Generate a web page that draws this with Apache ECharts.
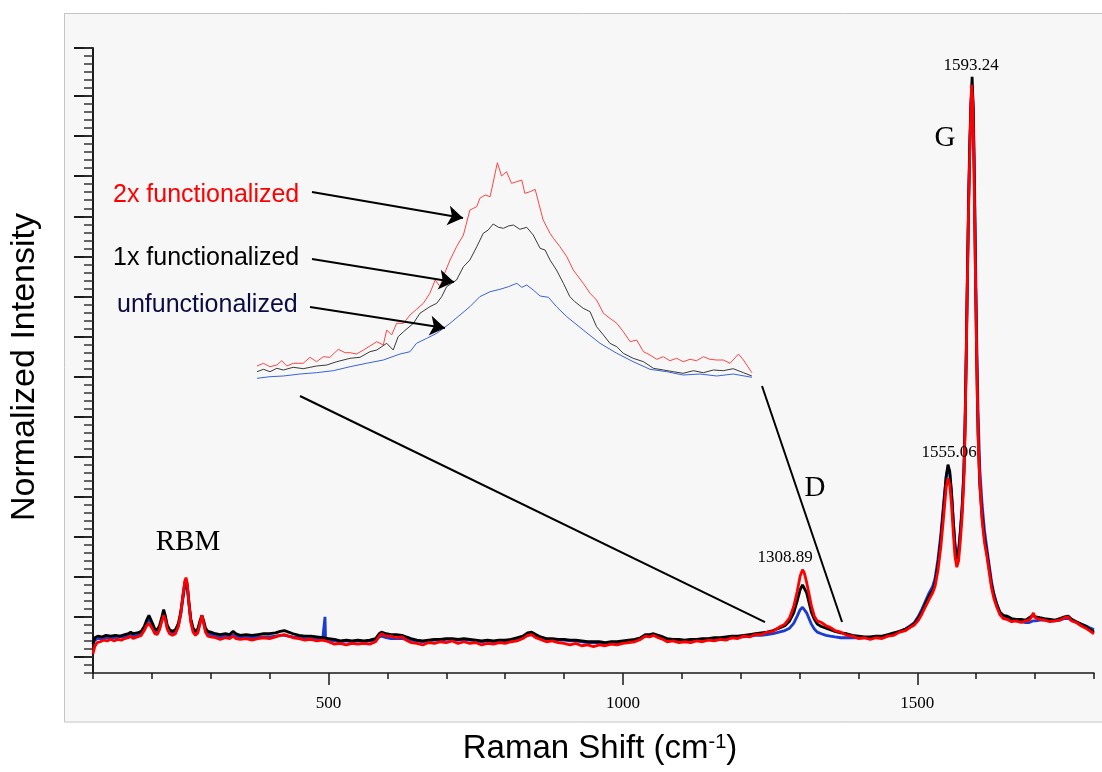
<!DOCTYPE html>
<html><head><meta charset="utf-8">
<script src="https://cdn.jsdelivr.net/npm/echarts@6/dist/echarts.min.js"></script>
<style>html,body{margin:0;padding:0;background:#fff}#chart{width:1102px;height:772px}</style>
</head><body><div id="chart"></div>
<script>
// ---- main spectra: [Raman shift cm-1, normalized intensity (axis units)] ----
const unfunctionalized = [[100,3.6],[103,4.1],[108,4.3],[115,4.3],[122,4.4],[130,4.4],[138,4.4],[146,4.5],[154,4.5],[160,4.6],[164,4.8],[168,4.6],[175,4.7],[182,4.9],[187,5.5],[191,6.2],[195,6.8],[198,6.6],[201,5.9],[205,5.2],[209,5.1],[213,5.6],[217,6.7],[220,7.5],[223,6.8],[226,5.7],[230,5.1],[235,4.9],[240,5.1],[245,5.9],[249,7.3],[253,9.4],[256,10.9],[258,11.3],[260,10.7],[263,8.5],[266,6.5],[270,5.3],[274,4.9],[278,5.2],[282,6.3],[285,6.9],[288,6.2],[291,5.3],[295,4.9],[300,4.8],[308,4.6],[316,4.5],[325,4.6],[332,4.5],[338,4.8],[343,4.6],[350,4.4],[360,4.5],[370,4.4],[380,4.5],[390,4.5],[400,4.5],[410,4.6],[418,4.7],[425,4.7],[432,4.6],[440,4.5],[450,4.4],[460,4.3],[470,4.3],[480,4.2],[490,4.2],[493,4.2],[494,7.0],[495,4.2],[500,4.1],[510,4.0],[520,3.9],[530,4.0],[540,3.9],[550,4.0],[560,3.9],[570,4.0],[580,4.1],[586,4.5],[590,4.6],[598,4.4],[606,4.3],[615,4.3],[625,4.3],[632,4.2],[640,4.1],[650,4.0],[660,3.9],[670,4.0],[680,4.1],[690,4.1],[700,4.2],[710,4.2],[720,4.1],[730,4.2],[740,4.1],[750,4.0],[760,3.9],[770,4.0],[780,3.9],[790,4.0],[800,4.0],[810,4.1],[820,4.2],[830,4.4],[838,4.7],[845,4.8],[852,4.5],[860,4.3],[870,4.2],[880,4.2],[890,4.1],[900,4.1],[910,4.0],[920,4.0],[930,3.9],[940,3.8],[950,3.8],[960,3.8],[970,3.7],[980,3.8],[990,3.8],[1000,3.9],[1010,4.0],[1020,4.1],[1030,4.3],[1038,4.6],[1045,4.6],[1052,4.7],[1060,4.5],[1068,4.4],[1075,4.2],[1085,4.1],[1095,4.1],[1105,4.0],[1115,4.1],[1125,4.1],[1135,4.2],[1145,4.2],[1155,4.3],[1165,4.3],[1175,4.4],[1185,4.4],[1195,4.5],[1205,4.5],[1215,4.6],[1225,4.7],[1235,4.7],[1245,4.8],[1255,4.9],[1265,5.1],[1275,5.3],[1283,5.6],[1290,6.2],[1296,7.1],[1301,7.9],[1305,8.2],[1308,8.1],[1312,7.5],[1316,6.8],[1320,6.1],[1325,5.5],[1330,5.1],[1337,4.9],[1345,4.7],[1352,4.6],[1360,4.5],[1370,4.4],[1380,4.4],[1390,4.4],[1400,4.4],[1410,4.4],[1420,4.4],[1430,4.5],[1440,4.5],[1450,4.7],[1460,4.9],[1470,5.2],[1480,5.5],[1488,5.9],[1495,6.3],[1502,7.1],[1508,8.0],[1514,9.0],[1520,10.0],[1526,10.8],[1530,11.8],[1535,14.2],[1540,17.4],[1545,21.5],[1549,24.6],[1552,25.6],[1555,24.8],[1558,22.4],[1561,19.0],[1564,16.0],[1567,14.5],[1570,15.3],[1573,17.8],[1576,20.8],[1579,25.2],[1581,31],[1583,39.5],[1585,49],[1587,58],[1589,65.5],[1591,71],[1593,73.2],[1595,70.5],[1597,62],[1599,51],[1601,41],[1603,33],[1606,25.5],[1610,21.0],[1614,17.8],[1618,15.6],[1622,13.5],[1626,11.4],[1630,9.9],[1635,8.6],[1640,7.6],[1646,7.1],[1652,6.9],[1660,6.6],[1668,6.5],[1676,6.4],[1684,6.3],[1690,6.3],[1696,6.5],[1701,6.5],[1708,6.6],[1716,6.6],[1725,6.5],[1734,6.5],[1742,6.6],[1750,6.8],[1756,6.8],[1762,6.6],[1770,6.3],[1778,6.1],[1786,5.9],[1794,5.6],[1800,5.4]];

const functionalized1x = [[100,3.6],[103,4.4],[108,4.6],[115,4.5],[122,4.7],[130,4.6],[138,4.7],[146,4.6],[154,4.8],[160,4.9],[164,5.1],[168,4.9],[175,5.0],[182,5.2],[187,5.8],[191,6.6],[195,7.2],[198,7.0],[201,6.2],[205,5.5],[209,5.4],[213,5.9],[217,7.0],[220,7.9],[223,7.1],[226,6.0],[230,5.4],[235,5.2],[240,5.4],[245,6.2],[249,7.6],[253,9.8],[256,11.3],[258,11.6],[260,11.0],[263,8.8],[266,6.8],[270,5.6],[274,5.2],[278,5.5],[282,6.6],[285,7.2],[288,6.5],[291,5.6],[295,5.2],[300,5.1],[308,4.9],[316,4.8],[325,4.9],[332,4.8],[338,5.2],[343,4.9],[350,4.7],[360,4.8],[370,4.7],[380,4.8],[390,4.9],[400,4.9],[410,5.0],[418,5.2],[425,5.3],[432,5.1],[440,4.9],[450,4.7],[460,4.6],[470,4.6],[480,4.5],[490,4.4],[500,4.3],[510,4.2],[520,4.0],[530,4.1],[540,4.0],[550,4.1],[560,4.0],[570,4.1],[580,4.3],[586,4.9],[590,5.1],[598,4.9],[606,4.8],[615,4.8],[625,4.7],[632,4.5],[640,4.3],[650,4.1],[660,4.0],[670,4.1],[680,4.2],[690,4.2],[700,4.3],[710,4.3],[720,4.2],[730,4.3],[740,4.2],[750,4.1],[760,4.0],[770,4.1],[780,4.0],[790,4.1],[800,4.1],[810,4.2],[820,4.4],[830,4.6],[838,5.0],[845,5.1],[852,4.8],[860,4.5],[870,4.3],[880,4.3],[890,4.2],[900,4.2],[910,4.1],[920,4.1],[930,4.0],[940,3.9],[950,3.9],[960,3.9],[970,3.8],[980,3.9],[990,3.9],[1000,4.0],[1010,4.1],[1020,4.2],[1030,4.4],[1038,4.8],[1045,4.8],[1052,4.9],[1060,4.7],[1068,4.5],[1075,4.3],[1085,4.2],[1095,4.2],[1105,4.1],[1115,4.2],[1125,4.2],[1135,4.3],[1145,4.3],[1155,4.4],[1165,4.4],[1175,4.5],[1185,4.6],[1195,4.6],[1205,4.7],[1215,4.8],[1225,4.9],[1235,5.0],[1245,5.1],[1255,5.3],[1265,5.6],[1275,5.9],[1283,6.5],[1290,7.5],[1296,9.0],[1301,10.4],[1305,11.0],[1308,10.9],[1312,10.0],[1316,8.8],[1320,7.6],[1325,6.7],[1330,6.1],[1337,5.8],[1345,5.6],[1352,5.4],[1360,5.2],[1370,5.0],[1380,4.9],[1390,4.7],[1400,4.6],[1410,4.5],[1420,4.5],[1430,4.6],[1440,4.6],[1450,4.8],[1460,5.0],[1470,5.2],[1480,5.5],[1488,5.8],[1495,6.2],[1502,6.9],[1508,7.7],[1514,8.7],[1520,9.6],[1526,10.3],[1530,11.2],[1535,13.5],[1540,16.8],[1545,21.0],[1549,24.5],[1552,26.0],[1555,25.2],[1558,22.6],[1561,19.0],[1564,15.8],[1567,14.2],[1570,15.0],[1573,17.5],[1576,20.5],[1579,25.0],[1581,31],[1583,40],[1585,50],[1587,59],[1589,66],[1591,71],[1593,74.4],[1595,70],[1597,60],[1599,48],[1601,38],[1603,30],[1606,23.5],[1610,19.5],[1614,16.8],[1618,15.0],[1622,13.0],[1626,11.0],[1630,9.7],[1635,8.5],[1640,7.6],[1646,7.2],[1652,7.1],[1660,6.8],[1668,6.7],[1676,6.7],[1684,6.6],[1690,6.9],[1696,7.2],[1701,7.0],[1708,6.9],[1716,6.8],[1725,6.7],[1734,6.6],[1742,6.8],[1750,7.0],[1756,7.1],[1762,6.7],[1770,6.4],[1778,6.1],[1786,5.8],[1794,5.4],[1800,5.1]];

const functionalized2x = [[100,2.4],[103,3.3],[107,3.8],[112,3.9],[118,4.1],[124,4.0],[130,4.2],[136,4.0],[142,4.2],[148,4.1],[154,4.3],[160,4.4],[164,4.6],[168,4.3],[175,4.5],[182,4.7],[187,5.3],[191,5.9],[195,6.2],[198,6.1],[201,5.5],[205,4.9],[209,4.8],[213,5.4],[217,6.5],[220,7.2],[223,6.6],[226,5.5],[230,4.9],[235,4.7],[240,4.9],[245,5.8],[249,7.4],[253,9.8],[256,11.5],[258,11.9],[260,11.2],[263,8.7],[266,6.4],[270,5.1],[274,4.7],[278,5.0],[282,6.3],[285,7.2],[288,6.2],[291,5.1],[295,4.6],[300,4.5],[308,4.4],[316,4.2],[325,4.4],[332,4.3],[338,4.6],[343,4.3],[350,4.2],[360,4.3],[370,4.1],[380,4.3],[390,4.4],[400,4.3],[410,4.5],[418,4.7],[425,4.8],[432,4.6],[440,4.4],[450,4.3],[460,4.1],[470,4.2],[480,4.0],[490,4.1],[500,3.9],[510,3.6],[520,3.7],[530,3.5],[540,3.7],[550,3.6],[560,3.7],[570,3.6],[580,3.9],[586,4.6],[590,4.9],[598,4.6],[606,4.6],[615,4.4],[625,4.5],[632,4.1],[640,3.8],[650,3.7],[660,3.5],[670,3.8],[680,3.7],[690,3.9],[700,3.8],[710,4.0],[720,3.7],[730,3.9],[740,3.7],[750,3.8],[760,3.5],[770,3.7],[780,3.6],[790,3.8],[800,3.7],[810,3.9],[820,4.0],[830,4.3],[838,4.7],[845,4.8],[852,4.4],[860,4.2],[870,3.9],[880,4.0],[890,3.8],[900,3.7],[910,3.5],[920,3.7],[930,3.4],[940,3.5],[950,3.3],[960,3.5],[970,3.4],[980,3.6],[990,3.5],[1000,3.7],[1010,3.8],[1020,3.9],[1030,4.2],[1038,4.6],[1045,4.5],[1052,4.7],[1060,4.4],[1068,4.2],[1075,3.9],[1085,4.0],[1095,3.8],[1105,3.9],[1115,3.8],[1125,4.0],[1135,3.9],[1145,4.1],[1155,4.0],[1165,4.2],[1175,4.1],[1185,4.4],[1195,4.3],[1205,4.6],[1215,4.5],[1225,4.8],[1235,4.8],[1245,5.1],[1255,5.2],[1265,5.7],[1275,6.1],[1283,6.9],[1290,8.3],[1296,10.2],[1301,12.1],[1305,12.9],[1308,12.5],[1312,11.3],[1316,9.9],[1320,8.4],[1325,7.1],[1330,6.5],[1337,6.3],[1345,5.9],[1352,5.7],[1360,5.3],[1370,5.1],[1380,4.7],[1390,4.6],[1400,4.3],[1410,4.4],[1420,4.2],[1430,4.4],[1440,4.3],[1450,4.6],[1460,4.7],[1470,5.1],[1480,5.3],[1488,5.7],[1495,6.0],[1502,6.6],[1508,7.4],[1514,8.3],[1520,9.2],[1526,10.0],[1530,10.8],[1535,12.8],[1540,15.8],[1545,19.8],[1549,23.2],[1552,24.3],[1555,23.5],[1558,21.0],[1561,17.5],[1564,14.5],[1567,13.2],[1570,14.0],[1573,16.5],[1576,19.5],[1579,24.0],[1581,30],[1583,39],[1585,49],[1587,58],[1589,65],[1591,70.5],[1592,73.4],[1594,71.5],[1596,64],[1598,53],[1600,43],[1602,34],[1604,27.5],[1607,22.5],[1610,19.0],[1614,16.3],[1618,14.6],[1622,12.6],[1626,10.6],[1630,9.3],[1635,8.2],[1640,7.3],[1646,6.8],[1652,6.7],[1660,6.4],[1668,6.5],[1676,6.3],[1684,6.5],[1690,6.6],[1694,7.0],[1697,7.5],[1700,6.9],[1708,6.7],[1716,6.6],[1725,6.4],[1734,6.5],[1742,6.6],[1750,6.9],[1756,7.0],[1762,6.5],[1770,6.3],[1778,5.9],[1786,5.6],[1794,5.2],[1800,4.9]];

// ---- inset (zoom of the D band) ----
const insetUnfunctionalized = [[1240.0,0.17],[1243.4,0.33],[1246.9,0.4],[1251.3,0.6],[1255.6,0.73],[1260.0,0.93],[1264.4,1.33],[1268.7,1.67],[1273.1,2.0],[1277.5,2.6],[1280.1,2.83],[1281.8,3.67],[1284.5,4.17],[1287.1,4.67],[1290.6,5.67],[1293.2,6.5],[1295.8,7.33],[1298.4,8.33],[1301.1,8.83],[1303.7,9.07],[1305.9,9.33],[1308.1,9.67],[1309.4,9.27],[1310.7,9.5],[1312.4,9.0],[1314.2,8.4],[1316.4,8.27],[1318.5,7.33],[1321.2,6.33],[1325.5,5.0],[1329.9,3.67],[1334.3,2.67],[1338.6,1.83],[1343.0,1.07],[1347.4,0.83],[1351.7,0.5],[1356.1,0.6],[1360.5,0.4],[1364.8,0.6],[1369.7,0.27]];
const inset1x = [[1240.0,0.83],[1241.7,1.07],[1243.4,0.83],[1245.2,1.17],[1246.9,1.0],[1249.5,1.27],[1252.1,1.13],[1255.6,1.4],[1258.3,1.5],[1260.9,1.83],[1264.4,2.17],[1267.0,2.27],[1269.6,2.83],[1271.4,3.0],[1274.0,3.67],[1275.7,3.0],[1277.0,4.33],[1278.4,4.83],[1281.0,5.67],[1282.7,6.67],[1285.3,7.33],[1287.1,7.67],[1288.4,8.33],[1289.7,9.33],[1292.3,10.0],[1294.1,11.33],[1295.8,12.0],[1297.6,13.33],[1299.3,14.67],[1300.6,15.0],[1301.9,15.6],[1303.3,15.27],[1304.6,15.17],[1305.9,15.4],[1307.2,15.5],[1308.9,15.07],[1310.7,15.27],[1312.4,14.5],[1314.2,13.17],[1315.5,13.0],[1316.8,12.0],[1318.5,11.0],[1320.3,9.67],[1322.0,8.33],[1323.3,7.83],[1325.5,7.17],[1327.3,6.83],[1329.0,5.33],[1330.8,4.5],[1332.5,3.67],[1334.3,3.33],[1336.0,2.67],[1338.6,2.17],[1341.3,1.83],[1343.9,1.17],[1346.5,1.0],[1349.1,0.83],[1351.7,0.67],[1354.4,0.93],[1357.0,0.73],[1359.6,1.0],[1362.2,0.93],[1364.8,1.13],[1367.5,0.73],[1369.7,0.4]];
const inset2x = [[1240.0,1.4],[1241.7,1.67],[1243.4,1.33],[1245.2,1.5],[1246.5,1.93],[1247.8,1.4],[1249.5,1.67],[1252.1,1.67],[1253.9,2.27],[1255.6,1.83],[1257.4,2.33],[1259.1,2.27],[1261.3,3.07],[1263.1,2.73],[1264.4,2.73],[1266.1,2.6],[1267.9,3.0],[1269.6,3.4],[1271.4,3.83],[1273.1,3.5],[1274.0,5.0],[1275.3,4.5],[1276.6,5.67],[1278.4,5.67],[1280.1,6.5],[1281.8,7.07],[1283.6,7.67],[1285.3,8.67],[1286.7,10.0],[1288.0,9.33],[1288.8,10.33],[1290.6,12.0],[1292.3,13.33],[1294.1,14.5],[1295.8,17.0],[1297.6,17.33],[1298.4,18.17],[1299.8,18.5],[1301.1,18.33],[1303.0,21.73],[1304.1,20.4],[1305.4,20.83],[1306.7,19.67],[1308.1,19.83],[1309.4,20.0],[1310.2,18.67],[1311.6,18.83],[1312.9,19.07],[1315.0,16.0],[1316.8,14.67],[1317.7,14.17],[1319.4,13.33],[1321.2,12.33],[1322.9,11.0],[1325.5,9.67],[1327.3,8.67],[1329.0,8.0],[1330.8,6.67],[1332.5,6.17],[1334.3,5.67],[1336.0,4.83],[1337.8,3.83],[1339.5,4.0],[1341.3,2.83],[1343.0,2.5],[1344.8,2.07],[1346.5,2.33],[1348.2,1.93],[1350.0,2.17],[1351.7,1.83],[1353.5,2.07],[1355.2,1.93],[1357.0,2.33],[1358.7,2.07],[1360.5,2.0],[1362.2,2.0],[1364.0,1.67],[1366.2,2.6],[1367.5,2.0],[1369.7,0.73]];

// ---- ticks ----
const xMajorTicks = [500, 1000, 1500];
const yMajorTicks = [2, 7, 12, 17, 22, 27, 32, 37, 42, 47, 52, 57, 62, 67, 72, 78];

// ---- annotations (main-plot data coordinates) ----
const peakLabels = [
  {text: '1308.89', x: 1275.3, y: 14.35},
  {text: '1555.06', x: 1553.8, y: 27.46},
  {text: '1593.24', x: 1591.2, y: 75.75}
];
const bandLabels = [
  {text: 'RBM', x: 261.3, y: 16.35},
  {text: 'G', x: 1547.0, y: 66.77},
  {text: 'D', x: 1326.2, y: 23.09}
];
const seriesLabels = [
  {text: '2x functionalized', x: 134.0, y: 59.65},
  {text: '1x functionalized', x: 134.0, y: 51.79},
  {text: 'unfunctionalized', x: 140.8, y: 45.93}
];
const arrowLines = [
  [[471.9, 60.03], [728.4, 56.78]],
  [[471.9, 51.67], [713.1, 48.80]],
  [[468.5, 45.68], [697.8, 43.05]]
];
const zoomConnectors = [
  [[451.6, 34.57], [1241.3, 6.36]],
  [[1236.2, 35.82], [1372.1, 6.36]]
];

const seriesLabelColors = ['#ff0000', '#000000', '#0c0c44'];

const chart = echarts.init(document.getElementById('chart'), null, {renderer: 'canvas'});

function mainLine(name, data, color, z) {
  return {name, type: 'line', xAxisIndex: 0, yAxisIndex: 0, data, showSymbol: false, symbol: 'none',
    lineStyle: {color, width: 2.8}, itemStyle: {color}, z, silent: true, animation: false};
}
function insetLine(name, data, color, z) {
  return {name, type: 'line', xAxisIndex: 2, yAxisIndex: 2, data, showSymbol: false, symbol: 'none',
    lineStyle: {color, width: 1}, itemStyle: {color}, z, silent: true, animation: false};
}
function textLayer(items, labelStyle, colors) {
  return {type: 'scatter', xAxisIndex: 0, yAxisIndex: 0, silent: true, z: 8, symbolSize: 1,
    itemStyle: {color: 'rgba(0,0,0,0)', opacity: 1},
    label: Object.assign({show: true, position: 'inside', formatter: '{b}', opacity: 1, color: '#000'}, labelStyle),
    data: items.map((p, i) => {
      const d = {name: p.text, value: [p.x, p.y]};
      if (colors) d.label = {color: colors[i]};
      return d;
    })};
}

const tickColor = '#1a1a1a';

const option = {
  animation: false,
  backgroundColor: '#ffffff',
  grid: [
    {left: 93, right: 8, top: 48, bottom: 99},
    {left: 257, right: 349, top: 160, bottom: 392}
  ],
  xAxis: [
    {type: 'value', gridIndex: 0, min: 100, max: 1800, position: 'bottom',
      axisLine: {show: true, lineStyle: {color: tickColor, width: 1.5}},
      axisTick: {show: true, customValues: xMajorTicks, length: 12, lineStyle: {color: tickColor, width: 1.5}},
      axisLabel: {show: true, customValues: xMajorTicks, margin: 22, color: '#000', fontFamily: 'Liberation Serif', fontSize: 17,
        formatter: v => String(v)},
      splitLine: {show: false}},
    {type: 'value', gridIndex: 0, min: 100, max: 1800, interval: 100, position: 'bottom',
      axisLine: {show: false},
      axisTick: {show: true, length: 6, lineStyle: {color: tickColor, width: 1.5}},
      axisLabel: {show: false}, splitLine: {show: false}},
    {type: 'value', gridIndex: 1, min: 1240, max: 1370, show: false}
  ],
  yAxis: [
    {type: 'value', gridIndex: 0, min: 0, max: 78, position: 'left',
      axisLine: {show: true, lineStyle: {color: tickColor, width: 2}},
      axisTick: {show: true, customValues: yMajorTicks, length: 19, lineStyle: {color: tickColor, width: 2}},
      axisLabel: {show: false}, splitLine: {show: false}},
    {type: 'value', gridIndex: 0, min: 0, max: 78, interval: 1, position: 'left',
      axisLine: {show: false},
      axisTick: {show: true, length: 9, lineStyle: {color: '#333', width: 1.5}},
      axisLabel: {show: false}, splitLine: {show: false}},
    {type: 'value', gridIndex: 1, min: 0, max: 22, show: false}
  ],
  graphic: [
    {type: 'rect', z: -100, silent: true, shape: {x: 64.5, y: 13.5, width: 1050, height: 708.5},
      style: {fill: '#f7f7f7', stroke: '#c4c4c4', lineWidth: 1}},
    {type: 'text', x: 600, y: 749, silent: true,
      style: {text: '{a|Raman Shift (cm}{b|-1}{a|)}', align: 'center', verticalAlign: 'middle',
        rich: {a: {fontSize: 33, fontFamily: 'Liberation Sans', fill: '#000'},
               b: {fontSize: 20, fontFamily: 'Liberation Sans', fill: '#000', verticalAlign: 'top'}}}},
    {type: 'text', x: 25, y: 367, rotation: Math.PI / 2, silent: true,
      style: {text: 'Normalized Intensity', fontSize: 34, fontFamily: 'Liberation Sans', fill: '#000',
        align: 'center', verticalAlign: 'middle'}}
  ],
  series: [
    mainLine('unfunctionalized', unfunctionalized, '#1a3cd0', 3),
    mainLine('1x functionalized', functionalized1x, '#000000', 4),
    mainLine('2x functionalized', functionalized2x, '#ff0000', 5),
    insetLine('inset unfunctionalized', insetUnfunctionalized, '#3a62dd', 3),
    insetLine('inset 1x', inset1x, '#3a3a3a', 4),
    insetLine('inset 2x', inset2x, '#ff4545', 5),
    {type: 'lines', coordinateSystem: 'cartesian2d', xAxisIndex: 0, yAxisIndex: 0, silent: true, z: 6,
      symbol: ['none', 'none'], color: '#000',
      lineStyle: {color: '#000', width: 2, opacity: 1, curveness: 0},
      data: zoomConnectors.map(c => ({coords: c}))},
    {type: 'lines', coordinateSystem: 'cartesian2d', xAxisIndex: 0, yAxisIndex: 0, silent: true, z: 7,
      symbol: ['none', 'arrow'], symbolSize: 15, color: '#000',
      lineStyle: {color: '#000', width: 2, opacity: 1, curveness: 0},
      data: arrowLines.map(c => ({coords: c}))},
    textLayer(peakLabels, {fontFamily: 'Liberation Serif', fontSize: 17}),
    textLayer(bandLabels, {fontFamily: 'Liberation Serif', fontSize: 29}),
    textLayer(seriesLabels, {fontFamily: 'Liberation Sans', fontSize: 25, align: 'left'}, seriesLabelColors)
  ]
};
chart.setOption(option);
</script>
</body></html>
